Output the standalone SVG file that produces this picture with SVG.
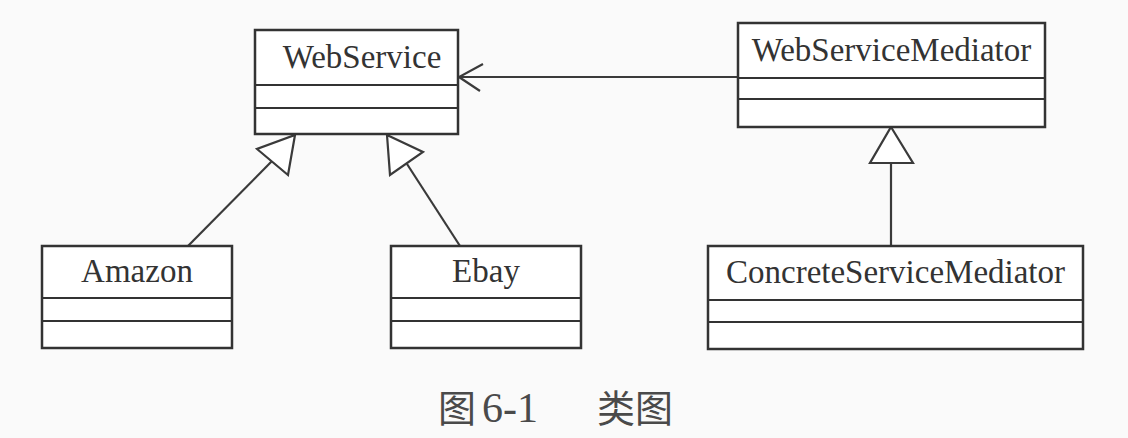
<svg xmlns="http://www.w3.org/2000/svg" width="1128" height="438" viewBox="0 0 1128 438">
<style>
.box{fill:#ffffff;stroke:#333333;stroke-width:2.5}
.div{stroke:#333333;stroke-width:2.2}
.lbl{font-family:"Liberation Serif","Times New Roman",serif;font-size:33px;fill:#333333;text-anchor:middle}
.edge{stroke:#3a3a3a;stroke-width:2.2;fill:none}
.tri{fill:#ffffff;stroke:#3a3a3a;stroke-width:2.2;stroke-linejoin:miter}
.cap{font-family:"Noto Sans CJK SC","Noto Sans",sans-serif;font-size:38px;fill:#4a4a4a}
.capn{font-family:"Liberation Serif","Times New Roman",serif;font-size:42px;fill:#4a4a4a}
</style>
<rect width="1128" height="438" fill="#fafafa"/>
<g id="connectors">
  <line class="edge" x1="738" y1="77" x2="459" y2="77"/>
  <polyline class="edge" points="483,64 459,77 480,91"/>
  <line class="edge" x1="188" y1="246" x2="273" y2="160"/>
  <polygon class="tri" points="295,135 288,175 257,149"/>
  <line class="edge" x1="460" y1="246" x2="407" y2="164"/>
  <polygon class="tri" points="387,135 423,152 390,175"/>
  <line class="edge" x1="891" y1="246" x2="891" y2="163"/>
  <polygon class="tri" points="891,127 913,163 870,163"/>
</g>
<g id="WebService">
  <rect class="box" x="255" y="30" width="203" height="104"/>
  <line class="div" x1="255" y1="85" x2="458" y2="85"/>
  <line class="div" x1="255" y1="108" x2="458" y2="108"/>
  <text class="lbl" x="362" y="68">WebService</text>
</g>
<g id="WebServiceMediator">
  <rect class="box" x="738" y="23" width="307" height="104"/>
  <line class="div" x1="738" y1="78" x2="1045" y2="78"/>
  <line class="div" x1="738" y1="99" x2="1045" y2="99"/>
  <text class="lbl" x="891.5" y="61">WebServiceMediator</text>
</g>
<g id="Amazon">
  <rect class="box" x="42" y="246" width="190" height="102"/>
  <line class="div" x1="42" y1="298" x2="232" y2="298"/>
  <line class="div" x1="42" y1="321" x2="232" y2="321"/>
  <text class="lbl" x="137" y="282">Amazon</text>
</g>
<g id="Ebay">
  <rect class="box" x="391" y="246" width="190" height="102"/>
  <line class="div" x1="391" y1="298" x2="581" y2="298"/>
  <line class="div" x1="391" y1="321" x2="581" y2="321"/>
  <text class="lbl" x="486" y="282">Ebay</text>
</g>
<g id="ConcreteServiceMediator">
  <rect class="box" x="708" y="246" width="375" height="103"/>
  <line class="div" x1="708" y1="300" x2="1083" y2="300"/>
  <line class="div" x1="708" y1="322" x2="1083" y2="322"/>
  <text class="lbl" x="895.5" y="283">ConcreteServiceMediator</text>
</g>
<g id="caption">
  <text class="cap" x="438" y="422">图</text>
  <text class="capn" x="482" y="422">6-1</text>
  <text class="cap" x="597" y="422">类图</text>
</g>
</svg>
